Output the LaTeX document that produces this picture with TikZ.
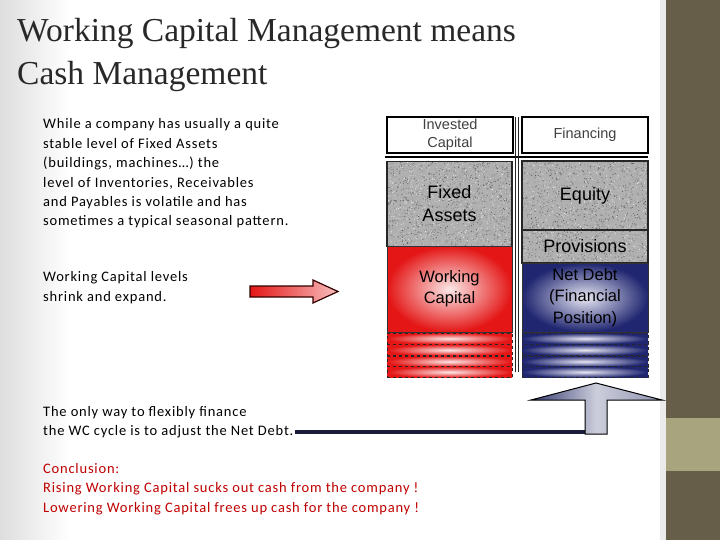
\documentclass[tikz,border=0pt]{standalone}
\usepackage{fontspec}
\setmainfont{Liberation Sans}
\newfontfamily\titlefont{Liberation Serif}
\newfontfamily\bodyfont[LetterSpace=5.5]{Carlito}
\definecolor{olive}{RGB}{102,94,72}
\definecolor{olivelight}{RGB}{168,165,126}
\definecolor{wcred}{RGB}{228,22,22}
\definecolor{wcpink}{RGB}{252,232,232}
\definecolor{ndblue}{RGB}{32,38,112}
\definecolor{ndlight}{RGB}{232,232,244}
\definecolor{concl}{RGB}{192,0,0}
\definecolor{titlegray}{RGB}{40,40,40}
\definecolor{granite}{RGB}{176,176,176}
\definecolor{arrowblue}{RGB}{52,58,112}
\definecolor{linenavy}{RGB}{28,28,58}
\newcommand\granitefill[4]{%
  \begin{scope}
  \clip (#1,#2) rectangle (#3,#4);
  \foreach \i in {1,...,2200}{%
    \pgfmathsetmacro\rx{#1+(#3-#1)*rnd}%
    \pgfmathsetmacro\ry{#2+(#4-#2)*rnd}%
    \pgfmathsetmacro\gg{int(5+65*rnd)}%
    \fill[black!\gg] (\rx,\ry) circle (0.55);
  }
  \end{scope}}
\begin{document}
\begin{tikzpicture}[x=1pt,y=-1pt,
  body/.style={anchor=west, align=left, inner sep=1pt, font=\bodyfont\fontsize{14.5}{19.4}\selectfont},
  hdr/.style={draw=black, line width=1.6pt, minimum width=126, minimum height=36, inner sep=0pt, align=center, text=black!75, font=\fontsize{14.5}{18}\selectfont},
  greybox/.style={draw=black!85, line width=1.2pt, minimum width=125, inner sep=0pt, align=center, text=black, font=\fontsize{18}{23}\selectfont},
  redbox/.style={draw=black!80, line width=0.8pt, shading=radial, inner color=wcpink, outer color=wcred, minimum width=125, inner sep=0pt, align=center, font=\fontsize{16.5}{21}\selectfont},
  bluebox/.style={draw=black!80, line width=0.8pt, shading=radial, inner color=ndlight, outer color=ndblue, minimum width=126, inner sep=0pt, align=center, font=\fontsize{16.5}{21.5}\selectfont},
  redstrip/.style={draw=black!85, dashed, line width=0.8pt, shading=radial, inner color=wcpink, outer color=wcred, minimum width=125, minimum height=11, inner sep=0pt},
  bluestrip/.style={draw=black!85, dashed, line width=0.8pt, shading=radial, inner color=ndlight, outer color=ndblue, minimum width=126, minimum height=11, inner sep=0pt}
]
\useasboundingbox (0,0) rectangle (720,540);
% background
\fill[white] (0,0) rectangle (720,540);
\shade[left color=black!13, right color=white] (0,0) rectangle (70,540);
\fill[black!8] (660,0) rectangle (666,540);
\fill[olive] (666,0) rectangle (720,540);
\fill[olivelight] (666,418) rectangle (720,471);

% title
\node[anchor=base west, inner sep=0pt, text=titlegray, font=\titlefont\fontsize{33.5}{38}\selectfont] (t1) at (17,42) {Working Capital Management means};
\node[anchor=base west, inner sep=0pt, text=titlegray, font=\titlefont\fontsize{33.5}{38}\selectfont] (t2) at (17,85) {Cash Management};

% left texts
\node[body] (intro) at (42,173.5) {While a company has usually a quite\\stable level of Fixed Assets\\(buildings, machines\dots) the\\level of Inventories, Receivables\\and Payables is volatile and has\\sometimes a typical seasonal pattern.};
\node[body] (wclev) at (42,287.5) {Working Capital levels\\shrink and expand.};
\node[body] (wcnote) at (42,422) {The only way to flexibly finance\\the WC cycle is to adjust the Net Debt.};
\node[body, text=concl] (conc) at (42,489) {Conclusion:\\Rising Working Capital sucks out cash from the company !\\Lowering Working Capital frees up cash for the company !};

% red arrow
\shade[left color=wcred, right color=wcpink!80!wcred, draw=black!80!red, line width=1.2pt]
  (250,286) -- (313,286) -- (313,280) -- (338,291.5) -- (313,303) -- (313,297) -- (250,297) -- cycle;

% headers
\node[hdr] (ic) at (450,135) {Invested\\Capital};
\node[hdr] (fin) at (585,135) {Financing};
\draw[black, line width=1.5pt] (385,157) -- (648,157);
\draw[black!85, line width=0.6pt] (515.5,117) -- (515.5,372);
\draw[black!85, line width=0.6pt] (518,117) -- (518,372);

% grey boxes
\fill[granite] (387,161) rectangle (512,246);
\fill[granite] (522,161) rectangle (648,263);
\pgfmathsetseed{11}
\granitefill{387}{161}{512}{246}
\granitefill{522}{161}{648}{263}
\node[greybox, minimum height=85] (fa) at (449.5,204) {Fixed\\Assets};
\node[greybox, minimum width=126, minimum height=69] (eq) at (585,195.5) {Equity};
\node[greybox, minimum width=126, minimum height=33] (prov) at (585,246.5) {Provisions};

% working capital & net debt
\node[redbox, minimum height=86] (wc) at (449.5,289) {Working\\Capital};
\node[bluebox, minimum height=69] (nd) at (585,297.5) {Net Debt\\(Financial\\Position)};
\node[redstrip] (r1) at (449.5,338.5) {};
\node[redstrip] (r2) at (449.5,350) {};
\node[redstrip] (r3) at (449.5,361.5) {};
\node[redstrip] (r4) at (449.5,372) {};
\node[bluestrip] (b1) at (585,338.5) {};
\node[bluestrip] (b2) at (585,350) {};
\node[bluestrip] (b3) at (585,361.5) {};
\node[bluestrip] (b4) at (585,372) {};

% up arrow and line
\coordinate (foot) at (586,432);
\draw[linenavy, line width=4pt] (wcnote.east |- foot) -- (foot);
\shade[left color=arrowblue, right color=arrowblue!55!white, middle color=arrowblue!25!white, draw=black, line width=1pt]
  (596,383) -- (662,400) -- (607,400) -- (607,434) -- (585,434) -- (585,400) -- (531,400) -- cycle;
\end{tikzpicture}
\end{document}
